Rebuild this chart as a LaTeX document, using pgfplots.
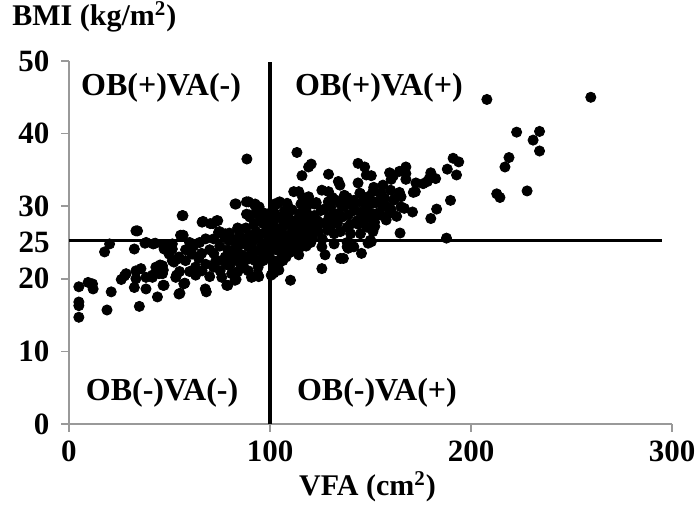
\documentclass[border=0pt]{standalone}
\usepackage{pgfplots}
\pgfplotsset{compat=1.18}
\usepackage{fontspec}
\setmainfont{Liberation Serif}
\begin{document}
\begin{tikzpicture}
\begin{axis}[
  name=ax,
  scale only axis,
  width=301.5pt, height=181.5pt,
  xmin=0, xmax=300, ymin=0, ymax=50,
  axis x line=bottom, axis y line=left,
  axis line style={-, black!40, line width=0.8pt},
  every inner x axis line/.append style={black!40},
  every inner y axis line/.append style={black!40},
  tick style={black!40, line width=0.8pt},
  tick align=outside,
  major tick length=3.8pt,
  xtick={0,100,200,300},
  ytick={0,10,20,30,40,50},
  /pgf/number format/assume math mode=true,
  ticklabel style={font=\fontsize{15.5}{15.5}\selectfont\bfseries},
  yticklabel style={xshift=-2.5pt},
  xticklabel style={yshift=-1pt},
  clip=false,
]
\addplot[only marks, mark=*, mark size=2.55pt, black] coordinates {
(207.9,44.7) (259.6,45.0) (222.7,40.2) (234.1,40.3) (230.9,39.1) (234.1,37.6)
(218.9,36.7) (216.9,35.4) (212.8,31.7) (214.4,31.2) (227.9,32.1)
(191.1,36.6) (193.9,36.1) (188.2,35.1) (192.8,34.3) (180.0,34.6) (179.2,33.8)
(182.4,33.8) (178.3,33.4) (172.6,33.2) (172.3,32.0) (167.6,35.4) (167.6,34.5)
(167.6,33.7) (164.4,34.8) (159.5,34.6) (160.3,33.7) (156.2,32.9) (150.4,34.2)
(155.3,31.8) (157.0,31.1) (164.4,31.9) (165.2,31.3) (189.8,30.8) (182.9,29.6)
(180.0,28.3) (170.9,29.2) (165.2,29.9) (166.8,29.7) (160.3,29.5) (159.5,29.0)
(157.8,28.1) (151.2,30.4) (150.4,29.0) (151.2,28.1) (152.1,27.2) (151.2,26.5)
(164.7,26.3) (150.4,25.1) (187.8,25.6)
(113.4,37.4) (120.5,35.8) (119.2,35.4) (115.9,34.2) (129.1,34.4) (143.8,35.9)
(147.1,35.4) (147.9,34.3) (134.0,33.4) (134.8,32.9) (143.8,33.2) (111.8,32.0)
(114.3,32.0) (125.8,32.2) (129.1,32.0) (119.2,31.3) (118.4,30.6) (137.3,31.1)
(144.7,31.8) (148.8,31.3) (151.2,32.0) (103.6,30.4) (108.5,30.4) (109.4,29.7)
(106.1,24.0) (114.3,23.3) (125.8,24.4) (127.4,23.3) (136.5,22.8) (125.8,21.4)
(110.2,19.8) (102.8,21.4) (101.9,20.8) (106.1,22.8) (145.5,23.5) (138.9,24.2)
(148.8,24.9) (88.5,36.5)
(161.4,34.2) (176.2,33.1) (171.3,31.9) (145.0,31.7) (151.6,32.6) (154.8,31.7)
(131.0,31.2) (116.3,31.2) (138.4,31.2) (140.1,30.3) (136.8,29.9) (141.7,29.4)
(145.0,29.2) (148.3,29.4) (149.9,28.5) (151.6,27.6) (158.1,29.9)
(149.9,25.3) (145.0,26.2) (140.1,26.2) (138.4,25.0) (138.4,24.4) (135.1,22.8)
(131.9,26.2) (122.0,26.7) (118.7,26.2) (117.1,25.3) (120.3,25.0) (115.4,24.4)
(112.2,24.4) (110.5,23.7) (105.6,23.7) (106.4,22.5) (103.9,21.6) (100.6,20.5)
(94.1,20.5) (90.8,20.2) (82.6,19.8) (78.5,19.1) (67.8,18.6) (47.3,19.1)
(56.3,28.7) (66.2,27.8) (70.3,27.6) (73.5,28.0) (82.6,30.3) (88.3,30.6)
(92.5,30.1) (94.1,29.2) (88.3,28.9) (90.0,28.5) (102.3,30.3) (104.8,30.6)
(107.2,29.4) (102.3,29.0) (74.4,26.4) (77.7,26.2) (84.2,26.9) (79.3,25.3)
(97.4,29.0) (99.8,28.3) (96.6,27.6) (51.4,24.8) (55.5,26.0) (47.3,24.1)
(43.2,21.6) (44.8,20.7) (41.5,20.2) (51.4,22.5) (54.7,23.0) (58.0,22.5)
(61.2,23.4) (64.5,22.8) (62.9,21.6) (66.2,21.1) (71.9,21.6) (75.2,21.1)
(72.8,22.3) (77.7,23.0) (80.9,23.2) (83.4,23.9) (85.9,24.8) (89.2,24.4)
(90.8,23.4) (88.3,23.0) (85.1,22.1) (89.2,21.1) (80.9,20.7) (94.1,21.6)
(92.5,22.5) (95.7,23.9) (98.2,24.8) (99.8,23.0) (96.6,22.5) (103.1,25.7)
(105.6,26.9) (108.0,27.6) (112.2,28.0) (114.6,29.0) (117.9,29.2) (122.0,28.7)
(123.6,28.0) (120.3,27.6) (110.5,26.2) (105.6,25.3) (102.3,24.8) (108.9,24.8)
(112.2,27.1) (117.1,27.6) (125.3,29.4) (129.4,28.5) (131.9,29.0)
(135.1,30.3) (141.7,30.8) (151.6,30.6) (161.4,30.8) (153.2,29.0) (143.3,28.0)
(133.5,27.6) (128.6,26.7) (138.4,27.1) (148.3,27.1) (131.9,24.8) (141.7,24.4)
(130.2,29.9) (122.0,30.3) (115.4,30.3)
(4.9,18.9) (9.5,19.5) (11.7,19.3) (12.0,18.6) (4.9,16.8) (4.9,16.3) (4.9,14.7)
(18.9,15.7) (21.0,18.2) (17.7,23.7) (20.2,24.8) (33.3,26.6) (32.5,24.1)
(35.0,16.2) (37.8,24.9) (41.9,24.8) (46.8,24.7) (26.0,19.9) (27.6,20.4)
(28.4,20.7) (33.3,21.1) (35.8,21.4) (33.3,20.0) (32.5,18.8) (38.3,18.6)
(38.3,20.2) (41.5,20.5) (44.0,21.1) (46.5,21.8) (46.5,20.7) (44.0,17.5)
(46.8,19.1) (53.1,20.2) (49.8,23.4) (52.2,22.3) (51.4,24.1) (54.7,22.8)
(57.1,19.3) (54.7,17.9) (56.7,28.7) (45.3,21.9) (46.9,21.2) (53.5,20.5)
(57.6,19.4) (55.2,18.0) (68.3,18.2) (79.0,19.1) (83.1,19.9) (91.3,20.3)
(94.4,20.3) (104.4,21.2) (66.7,27.9) (83.1,30.3) (89.3,30.6) (92.6,30.3)
(94.6,29.9) (89.7,28.8) (93.0,29.0) (71.6,27.6) (74.0,28.0) (74.9,26.5)
(79.8,26.3) (83.9,27.0) (56.8,26.0) (99.5,29.0) (102.8,30.2) (34.1,26.6)
(38.4,25.0) (42.9,24.9) (47.8,24.7)
(55,21) (58,24) (60,21) (60,25) (62,24.5) (63,20.5) (65,25) (66,23.5) (68,22)
(68,25.5) (70,24) (70,20.3) (72,25.5) (72,23.5) (74,22.5) (75,24.5) (76,20.2)
(77,26) (78,22) (79,24) (80,21.8) (81,25.5) (82,22.6) (83,24.8) (84,21) (85,26)
(86,23.3) (87,25.5) (87,21.5) (88,27) (89,22.7) (90,26) (91,24.8) (92,27.5)
(93,23.8) (93,26.5) (94,25.5) (95,22.6) (95,28) (96,24.5) (97,26.3) (98,23.5)
(98,27.5) (99,25.8) (100,24.3) (100,27) (101,22.5) (101,26) (102,28) (103,24)
(103,27) (104,22.5) (104,25.5) (105,28.5) (106,24.3) (106,26.5) (107,27.8)
(108,25.8) (108,23) (109,28.5) (110,25) (110,27.3) (111,29.5) (112,26)
(113,24.8) (113,28) (114,26.8) (115,25.6) (116,28.4) (117,26.4) (118,24.5)
(118,29.7) (119,27.4) (120,28.7) (121,25.7) (122,27.2) (123,30.5) (124,26.5)
(125,27.6) (126,25.5) (127,29.6) (128,27.8) (129,30.6) (130,26.8) (131,28)
(133,30.8) (134,29) (135,26.5) (136,28.5) (137,31.5) (139,28.8) (140,27.5)
(142,30.2) (144,27.5) (146,30.5) (147,28.2) (150,30.4) (152,27.8) (153,30.5)
(155,28.8) (156,30) (160,32.2) (162,31) (163,28.6)
};
\draw[line width=1.6pt] (axis cs:0,25.3) -- (axis cs:295,25.3);
\draw[line width=1.6pt] (axis cs:100,0) -- (axis cs:100,49.8);
\begin{scope}[font=\fontsize{16}{16}\selectfont\bfseries]
\node at (axis cs:45.8,46.3) {OB(+)VA(-)};
\node at (axis cs:154.2,46.3) {OB(+)VA(+)};
\node at (axis cs:46.3,4.3) {OB(-)VA(-)};
\node at (axis cs:153.2,4.3) {OB(-)VA(+)};
\end{scope}
\end{axis}
\path (ax.south west) ++(-9.5pt, 90.75pt) node[anchor=east, inner sep=0pt, font=\fontsize{15.5}{15.5}\selectfont\bfseries] {25};
\node[anchor=west, inner sep=0pt, font=\fontsize{15}{15}\selectfont\bfseries] at ([shift={(-28.5pt,22pt)}]ax.north west) {BMI (kg/m\textsuperscript{2})};
\node[inner sep=0pt, font=\fontsize{15}{15}\selectfont\bfseries] at ([shift={(-1.5pt,-31.5pt)}]ax.south) {VFA (cm\textsuperscript{2})};
\pgfresetboundingbox
\useasboundingbox ([shift={(-34.5pt,-42.5pt)}]ax.south west) rectangle ([shift={(14pt,30.5pt)}]ax.north east);
\end{tikzpicture}
\end{document}
